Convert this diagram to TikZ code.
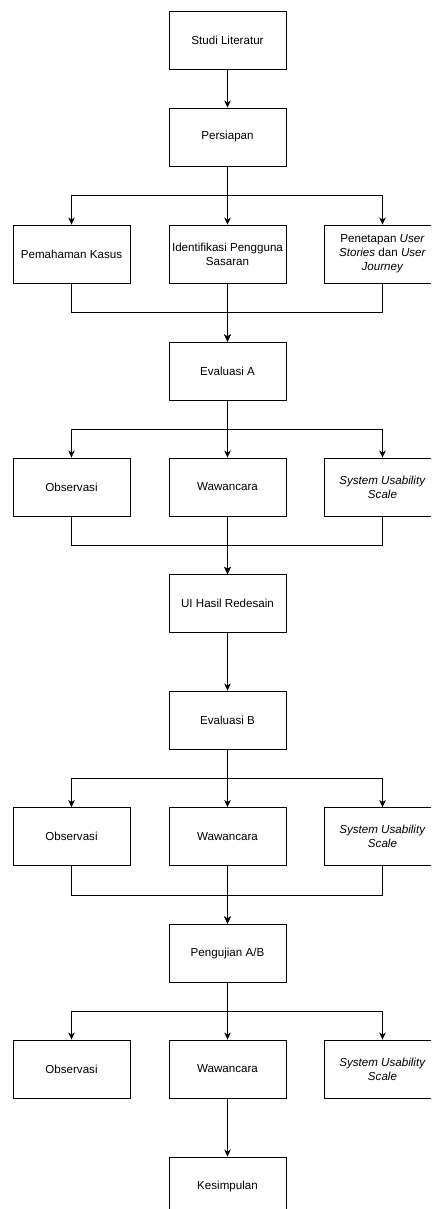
\documentclass[tikz,border=0pt]{standalone}
\usepackage{fontspec}
\setmainfont{Liberation Sans}
\usetikzlibrary{arrows.meta}
\tikzset{
  box/.style={draw=black, line width=0.9pt, minimum width=117pt, minimum height=58pt,
    inner sep=0pt, align=center, font=\fontsize{11.6}{13.8}\selectfont, text=black},
  conn/.style={draw=black, line width=0.9pt, -{Stealth[length=7pt,width=6.5pt,inset=2pt]}},
  plain/.style={draw=black, line width=0.9pt}
}
\begin{document}
\begin{tikzpicture}[x=1pt,y=-1pt]
\clip (0,0) rectangle (431,1209);
\fill[white] (0,0) rectangle (431,1209);
% main column
\node[box] (lit)  at (227.5,40)   {Studi Literatur};
\node[box] (pers) at (227.5,137)  {Persiapan};
\node[box] (r1a)  at (71.5,254)   {Pemahaman Kasus};
\node[box] (r1b)  at (227.5,254)  {Identifikasi Pengguna\\Sasaran};
\node[box] (r1c)  at (382.5,254)  {Penetapan \textit{User}\\\textit{Stories} dan \textit{User}\\\textit{Journey}};
\node[box] (eva)  at (227.5,371)  {Evaluasi A};
\node[box] (r2a)  at (71.5,487)   {Observasi};
\node[box] (r2b)  at (227.5,487)  {Wawancara};
\node[box] (r2c)  at (382.5,487)  {\textit{System Usability}\\\textit{Scale}};
\node[box] (ui)   at (227.5,603.5){UI Hasil Redesain};
\node[box] (evb)  at (227.5,720)  {Evaluasi B};
\node[box] (r3a)  at (71.5,836.5) {Observasi};
\node[box] (r3b)  at (227.5,836.5){Wawancara};
\node[box] (r3c)  at (382.5,836.5){\textit{System Usability}\\\textit{Scale}};
\node[box] (peng) at (227.5,953)  {Pengujian A/B};
\node[box] (r4a)  at (71.5,1069)  {Observasi};
\node[box] (r4b)  at (227.5,1069) {Wawancara};
\node[box] (r4c)  at (382.5,1069) {\textit{System Usability}\\\textit{Scale}};
\node[box] (kes)  at (227.5,1186) {Kesimpulan};
% connectors
\draw[conn] (lit) -- (pers);
\foreach \c in {r1a,r1b,r1c} \draw[conn] (pers.south) -- ++(0,29) -| (\c.north);
\foreach \c in {r1a,r1b,r1c} \draw[conn] (\c.south) -- ++(0,29) -| (eva.north);
\foreach \c in {r2a,r2b,r2c} \draw[conn] (eva.south) -- ++(0,29) -| (\c.north);
\foreach \c in {r2a,r2b,r2c} \draw[conn] (\c.south) -- ++(0,29) -| (ui.north);
\draw[conn] (ui) -- (evb);
\foreach \c in {r3a,r3b,r3c} \draw[conn] (evb.south) -- ++(0,29) -| (\c.north);
\foreach \c in {r3a,r3b,r3c} \draw[conn] (\c.south) -- ++(0,29) -| (peng.north);
\foreach \c in {r4a,r4b,r4c} \draw[conn] (peng.south) -- ++(0,29) -| (\c.north);
\draw[conn] (r4b) -- (kes);
\end{tikzpicture}
\end{document}
